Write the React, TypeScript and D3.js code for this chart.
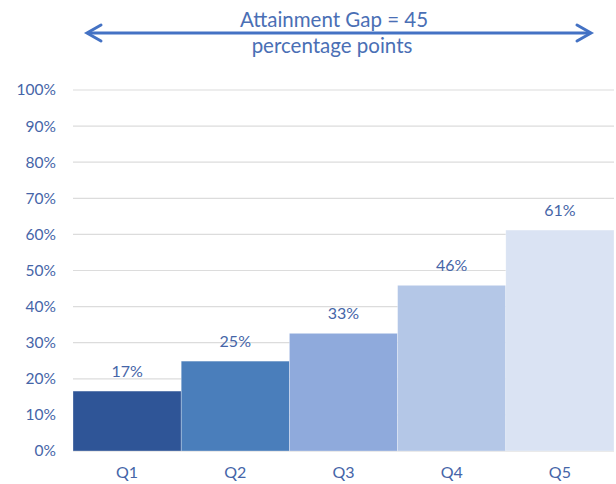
import React from "react";
import * as d3 from "d3";

const categories = ["Q1", "Q2", "Q3", "Q4", "Q5"];
const values = [16.6, 24.9, 32.6, 45.9, 61.2];
const labels = ["17%", "25%", "33%", "46%", "61%"];
const colors = ["#2F5597", "#4A7EBB", "#8FAADC", "#B4C7E7", "#DAE3F3"];
const yTicks = [0, 10, 20, 30, 40, 50, 60, 70, 80, 90, 100];
const titleLines = ["Attainment Gap = 45", "percentage points"];

const W = 616;
const H = 484;
const margin = { left: 73, right: 2, top: 90, bottom: 33 };
const textColor = "#4565A8";
const font = "Lato, 'Open Sans', sans-serif";

export default function App() {
  const x = d3
    .scaleBand<string>()
    .domain(categories)
    .range([margin.left, W - margin.right])
    .padding(0);
  const y = d3
    .scaleLinear()
    .domain([0, 100])
    .range([H - margin.bottom, margin.top]);

  const arrowY = 33;
  const ax1 = 87;
  const ax2 = 591;

  return (
    <svg
      width={W}
      height={H}
      style={{ position: "absolute", left: 0, top: 0 }}
      fontFamily={font}
    >
      <rect width={W} height={H} fill="#ffffff" />
      {yTicks.map((t) => (
        <g key={t}>
          <line
            x1={margin.left}
            x2={W - margin.right}
            y1={y(t)}
            y2={y(t)}
            stroke={t === 0 ? "#D0D0D0" : "#DCDCDC"}
            strokeWidth={1.2}
          />
          <text
            x={56}
            y={y(t)}
            dy="0.35em"
            textAnchor="end"
            fontSize={15.5}
            fill={textColor}
          >
            {t}%
          </text>
        </g>
      ))}
      {categories.map((c, i) => (
        <g key={c}>
          <rect
            x={x(c)!}
            y={y(values[i])}
            width={x.bandwidth()}
            height={y(0) - y(values[i])}
            fill={colors[i]}
            stroke="#ffffff"
            strokeOpacity={0.5}
            strokeWidth={0.6}
          />
          <text
            x={x(c)! + x.bandwidth() / 2}
            y={y(values[i]) - 14}
            textAnchor="middle"
            fontSize={16}
            fill={textColor}
          >
            {labels[i]}
          </text>
          <text
            x={x(c)! + x.bandwidth() / 2}
            y={H - margin.bottom + 27}
            textAnchor="middle"
            fontSize={16}
            fill={textColor}
          >
            {c}
          </text>
        </g>
      ))}
      <line
        x1={ax1 + 1}
        x2={ax2 - 1}
        y1={arrowY}
        y2={arrowY}
        stroke="#4472C4"
        strokeWidth={3}
      />
      <polyline
        points={`${ax1 + 14},${arrowY - 8} ${ax1},${arrowY} ${ax1 + 14},${arrowY + 8}`}
        fill="none"
        stroke="#4472C4"
        strokeWidth={3}
        strokeLinecap="round"
        strokeLinejoin="miter"
      />
      <polyline
        points={`${ax2 - 14},${arrowY - 8} ${ax2},${arrowY} ${ax2 - 14},${arrowY + 8}`}
        fill="none"
        stroke="#4472C4"
        strokeWidth={3}
        strokeLinecap="round"
        strokeLinejoin="miter"
      />
      <text x={334} y={27} textAnchor="middle" fontSize={20.5} fill="#4A6FB5">
        {titleLines[0]}
      </text>
      <text x={332} y={53} textAnchor="middle" fontSize={20.5} fill="#4A6FB5">
        {titleLines[1]}
      </text>
    </svg>
  );
}
